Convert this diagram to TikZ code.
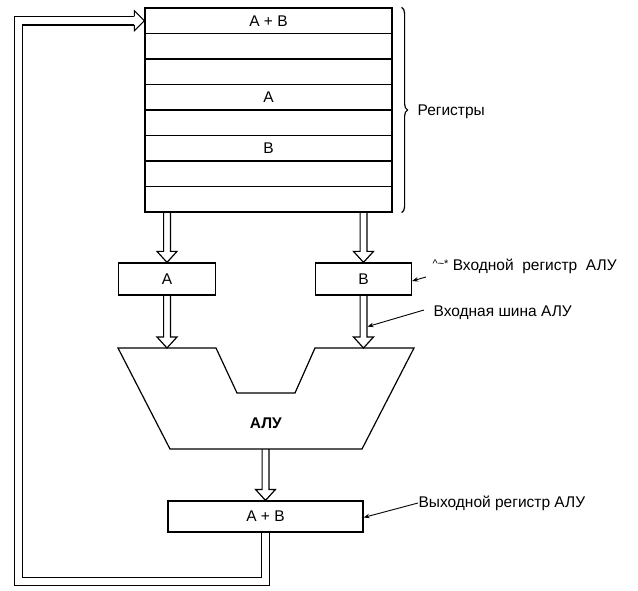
\documentclass[tikz,border=0pt]{standalone}
\usepackage{fontspec}
\setmainfont{Liberation Sans}
\usetikzlibrary{calc,decorations.pathreplacing,arrows.meta}
\begin{document}
\begin{tikzpicture}[x=1pt,y=-1pt, line width=1.2pt,
  every node/.style={font=\fontsize{15.5}{17}\selectfont},
  boxstyle/.style={draw, minimum height=32pt, inner sep=0pt},
  rowstyle/.style={draw, minimum width=247pt, minimum height=25.5pt, inner sep=0pt},
  fat/.style={to path={let \p1=(\tikztostart), \p2=(\tikztotarget) in
     (\x1-3.4pt,\y1) -- (\x1-3.4pt,\y2+11pt) -- (\x1-10pt,\y2+11pt) -- (\x1,\y2)
     -- (\x1+10pt,\y2+11pt) -- (\x1+3.4pt,\y2+11pt) -- (\x1+3.4pt,\y1)}},
  lbl/.style={anchor=west, inner sep=0pt},
  pointer/.style={-{Stealth[length=6pt,width=4.5pt]}, line width=0.9pt},
  loopline/.style={double, double distance=7.4pt, line width=1.1pt}
]
\useasboundingbox (0,0) rectangle (638,591);

% register file
\foreach \i/\t in {1/A + B,2/,3/,4/A,5/,6/B,7/,8/}
  \node[rowstyle] (r\i) at (268.5,{20.75+25.5*(\i-1)}) {\t};

% brace and label
\draw[decorate, decoration={brace, amplitude=6pt}]
  ($(r1.north east)+(9,0)$) -- ($(r8.south east)+(9,0)$);
\node[lbl] (reglbl) at (417,112) {Регистры};

% input registers
\node[boxstyle, minimum width=97pt] (A) at (167,279) {A};
\node[boxstyle, minimum width=96pt] (B) at (363.5,279) {B};

% ALU
\coordinate (aluTL) at (118,348);
\coordinate (aluB) at (266,449);
\draw (aluTL) -- (216,348) -- (237,393) -- (295,393) -- (315,348) -- (414,348)
      -- (362,449) -- (170,449) -- cycle;
\node (alu) at (266,423) {\textbf{АЛУ}};

% output register
\node[boxstyle, minimum width=195pt, minimum height=31pt] (out) at (265.5,516.5) {A + B};

% wide buses
\draw[fat] (A |- r8.south) to (A.north);
\draw[fat] (B |- r8.south) to (B.north);
\draw[fat] (A.south) to (A |- aluTL);
\draw[fat] (B.south) to (B |- aluTL);
\draw[fat] (out |- aluB) to (out.north);

% feedback loop
\coordinate (loopc) at (18.5,581.5);
\coordinate (headbase) at ($(r1.west)+(-10,0)$);
\draw[loopline] ($(out.south)+(0,0.6)$) |- (loopc) |- (headbase);
\draw[line width=1.1pt] ($(headbase)+(0,-4.25)$) -- ($(headbase)+(0,-10)$) -- (r1.west)
  -- ($(headbase)+(0,10)$) -- ($(headbase)+(0,4.25)$);

% labels with pointers
\node[lbl] (blbl) at (432,266) {\raisebox{3pt}{\fontsize{11}{11}\selectfont\textasciicircum\textasciitilde*}\ Входной\ \ регистр\ \ АЛУ};
\coordinate (bp) at (426,277);
\draw[pointer] (bp) -- ($(B.east)+(0,2)$);

\node[lbl] (shlbl) at (433,313) {Входная шина АЛУ};
\coordinate (shp) at (424,310);
\coordinate (shtip) at ($(B.south)+(4,31)$);
\draw[pointer] (shp) -- (shtip);

\node[lbl] (outlbl) at (418,503) {Выходной регистр АЛУ};
\draw[pointer] (outlbl.west) -- ($(out.east)+(0,1)$);
\end{tikzpicture}
\end{document}
